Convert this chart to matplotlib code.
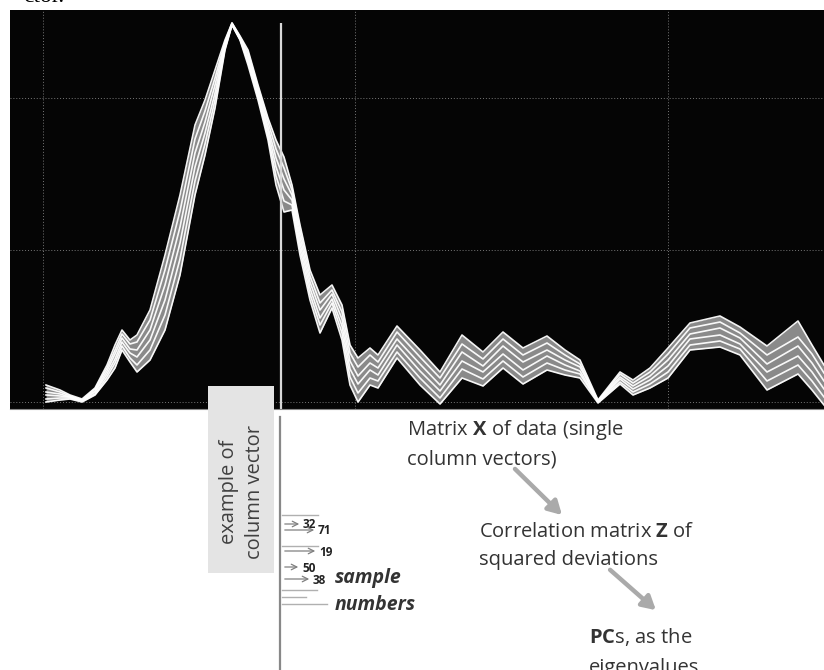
"""
spectra bundle with the PCA scheme sketched underneath
"""
import matplotlib
matplotlib.use("Agg")
import matplotlib.pyplot as plt
from matplotlib.patches import Rectangle

plt.rcParams['font.family'] = ['Open Sans', 'DejaVu Sans']
plt.rcParams['mathtext.fontset'] = 'custom'
plt.rcParams['mathtext.rm'] = 'Open Sans'
plt.rcParams['mathtext.bf'] = 'Open Sans:bold'

# channel numbers of the read points
channel = [46, 60, 70, 82, 95, 107, 115, 122, 130, 137, 150, 165, 180, 195, 205,
           215, 225, 232, 240, 248, 258, 268, 276, 284, 292, 300, 310, 320, 332, 342,
           350, 358, 370, 378, 397, 420, 440, 462, 483, 503, 523, 547, 565, 580, 598,
           620, 633, 650, 668, 690, 720, 740, 767, 798, 812, 824]

# intensities, highest spectrum first, lowest last
spec_a = [24, 19, 14, 10, 21, 44, 64, 79, 69, 74, 99, 154, 214, 284, 309, 339, 369, 386, 373, 359,
          324, 291, 269, 252, 224, 184, 139, 114, 124, 104, 64, 51, 61, 54, 83, 59, 37, 74, 57, 77,
          61, 73, 59, 49, 9, 37, 29, 41, 61, 86, 93, 82, 63, 88, 64, 44]
spec_b = [21, 17, 13, 9, 20, 41, 59, 75, 65, 67, 89, 139, 198, 270, 298, 331, 367, 386, 372, 356,
          321, 287, 260, 241, 219, 178, 133, 106, 119, 97, 56, 42, 54, 47, 77, 52, 31, 65, 50, 70,
          54, 66, 54, 45, 8, 35, 26, 37, 55, 81, 87, 76, 54, 72, 55, 36]
spec_c = [17, 15, 12, 9, 18, 38, 55, 71, 60, 59, 79, 124, 182, 256, 287, 324, 365, 385, 371, 353,
          318, 282, 251, 230, 214, 172, 127, 99, 115, 90, 48, 33, 46, 41, 70, 45, 24, 57, 43, 63,
          47, 59, 49, 42, 8, 32, 23, 33, 49, 75, 81, 71, 45, 63, 46, 28]
spec_d = [14, 13, 12, 8, 17, 35, 50, 67, 56, 52, 69, 109, 166, 242, 276, 316, 363, 385, 370, 350,
          315, 278, 242, 219, 209, 166, 121, 91, 110, 83, 40, 25, 39, 34, 64, 38, 18, 48, 37, 55,
          39, 53, 44, 38, 7, 30, 20, 29, 43, 70, 74, 65, 37, 53, 37, 20]
spec_e = [10, 11, 11, 8, 15, 32, 46, 63, 51, 44, 59, 94, 150, 228, 265, 309, 361, 384, 370, 347,
          312, 273, 233, 208, 204, 160, 115, 84, 106, 76, 32, 16, 31, 28, 57, 31, 11, 40, 30, 48,
          32, 46, 39, 35, 7, 27, 17, 25, 37, 64, 68, 60, 28, 44, 28, 12]
spec_f = [7, 9, 10, 7, 14, 29, 41, 59, 47, 37, 49, 79, 134, 214, 254, 301, 359, 384, 369, 344,
          309, 269, 224, 197, 199, 154, 109, 76, 101, 69, 24, 7, 24, 21, 51, 24, 5, 31, 23, 41,
          25, 39, 34, 31, 6, 25, 14, 21, 31, 59, 62, 54, 19, 35, 19, 4]
spectra = [spec_a, spec_b, spec_c, spec_d, spec_e, spec_f]

grid_x = [43, 355, 668]
grid_y = [7, 159, 311]
column_x = 281
column_top = 386

# sample arrows: label, y on the sketch, arrow end
sample_labels = ['32', '71', '19', '50', '38']
sample_y = [524, 530, 551, 567, 579]
sample_end = [302, 317, 318, 301, 312]
# plain rows of the column vector (no label)
row_y = [515, 546, 590, 597, 604]
row_end = [318, 318, 317, 306, 327]

fig = plt.figure(figsize=(8.24, 6.7), dpi=100)
ax = fig.add_axes([10 / 824, 261 / 670, 814 / 824, 399 / 670])
ax.set_facecolor('#050505')
ax.fill_between(channel, spec_f, spec_a, color='#8a8a8a', lw=0)
for s in spectra:
    ax.plot(channel, s, color='white', lw=1.2, alpha=0.95)
ax.vlines(column_x, 0, column_top, color='#d8d8d8', lw=1.6)
ax.set_xlim(10, 824)
ax.set_ylim(0, 399)
ax.set_xticks(grid_x)
ax.set_yticks(grid_y)
ax.tick_params(length=0, labelbottom=False, labelleft=False)
ax.grid(True, color='#777777', ls=(0, (1, 2)), lw=0.7)
for k in ['top', 'left', 'right']:
    ax.spines[k].set_visible(False)
ax.spines['bottom'].set_color('#888888')

# sketch layer in pixel units
sk = fig.add_axes([0, 0, 1, 1])
sk.set_xlim(0, 824)
sk.set_ylim(670, 0)
sk.axis('off')
sk.patch.set_alpha(0)

sk.text(64, 2.5, 'ctor.', family='Liberation Serif', fontsize=17, ha='right', va='baseline')

sk.add_patch(Rectangle((208, 386), 66, 187, facecolor='#e4e4e4', edgecolor='none'))
sk.text(242, 492, 'example of\ncolumn vector', rotation=90, ha='center', va='center',
        fontsize=14.5, color='#404040', linespacing=1.45)
sk.plot([280, 280], [417, 670], color='#888888', lw=1.6)

for y, x1 in zip(row_y, row_end):
    sk.plot([282, x1], [y, y], color='#b0b0b0', lw=1)
for lab, y, x1 in zip(sample_labels, sample_y, sample_end):
    sk.annotate('', xy=(x1, y), xytext=(282, y),
                arrowprops=dict(arrowstyle='->', color='#808080', lw=0.9))
    sk.text(x1 + 1, y + 1, lab, fontsize=8.5, fontweight='bold', color='#222222',
            ha='left', va='center')
sk.text(335, 578, 'sample', fontsize=14, fontweight='bold', style='italic',
        color='#333333', va='center')
sk.text(335, 605, 'numbers', fontsize=14, fontweight='bold', style='italic',
        color='#333333', va='center')

tc = '#333333'
sk.text(407, 430, r'Matrix $\mathbf{X}$ of data (single', fontsize=14.5, color=tc, va='center')
sk.text(407, 460, 'column vectors)', fontsize=14.5, color=tc, va='center')
sk.text(479, 532, r'Correlation matrix $\mathbf{Z}$ of', fontsize=14.5, color=tc, va='center')
sk.text(479, 560, 'squared deviations', fontsize=14.5, color=tc, va='center')
sk.text(589, 637, r'$\mathbf{PC}$s, as the', fontsize=14.5, color=tc, va='center')
sk.text(589, 668, 'eigenvalues', fontsize=14.5, color=tc, va='center')

for (x0, y0), (x1, y1) in [((513, 467), (564, 517)), ((608, 568), (658, 612))]:
    sk.annotate('', xy=(x1, y1), xytext=(x0, y0),
                arrowprops=dict(arrowstyle='-|>,head_length=0.8,head_width=0.45',
                                color='#aaaaaa', lw=3.2))

fig.savefig('out.png', dpi=100)
